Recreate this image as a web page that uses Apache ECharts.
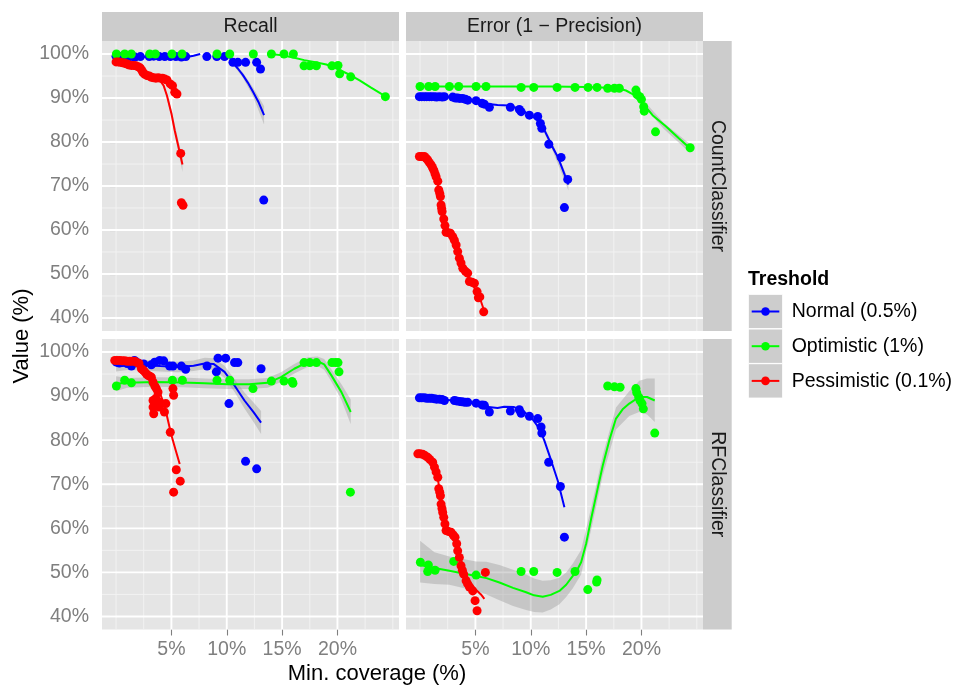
<!DOCTYPE html>
<html><head><meta charset="utf-8">
<script src="https://cdn.jsdelivr.net/npm/echarts@6/dist/echarts.min.js"></script>
<style>html,body{margin:0;padding:0;background:#fff}#c{width:956px;height:686px}</style>
</head><body><div id="c"></div><script>
// ---------- categories / ticks ----------
const groups = ['Normal (0.5%)', 'Optimistic (1%)', 'Pessimistic (0.1%)'];
const colTitles = ['Recall', 'Error (1 \u2212 Precision)'];
const rowTitles = ['CountClassifier', 'RFClassifier'];
const xTicks = [5, 10, 15, 20];
const xMinor = [0, 2.5, 7.5, 12.5, 17.5, 22.5, 25];
const yTicks = [40, 50, 60, 70, 80, 90, 100];
const yMinor = [45, 55, 65, 75, 85, 95];

// ---------- Recall / CountClassifier ----------
const rcNormalPts = [[0.0,99.5],[0.3,99.4],[0.6,99.5],[0.9,99.4],[1.3,99.4],[1.7,99.3],[2.2,99.4],[3.0,99.4],[3.4,99.5],[3.9,99.4],[4.4,99.4],[4.9,99.4],[5.4,99.4],[5.9,99.3],[6.3,99.4],[8.2,99.4],[9.1,99.4],[9.8,99.4],[10.56,98.1],[11.0,98.1],[11.7,98.1],[12.7,98.1],[13.05,96.6],[13.34,66.8]];
const rcNormalFitA = [[0,99.3],[2,99.3],[4,99.4],[5.5,99.4],[6.4,99.3],[7.0,99.6],[7.6,100.0]];
const rcNormalFitB = [[10.1,100.0],[10.56,98.0],[11.0,96.7],[11.46,95.2],[11.9,93.5],[12.37,91.4],[12.9,88.9],[13.37,86.1]];
const rcNormalBand = [[10.56,97.6,98.4],[11.46,94.6,95.8],[12.37,90.4,92.4],[13.37,84.0,88.2]];
const rcOptPts = [[0.03,100],[0.78,100],[1.38,100],[3.04,100],[3.55,100],[5.05,100],[5.96,100],[9.12,100],[10.27,100],[12.4,100],[14.03,100],[15.17,100],[16.02,100],[16.98,97.3],[17.5,97.3],[18.1,97.3],[19.5,97.3],[20.05,97.4],[20.2,95.5],[21.2,94.8],[24.33,90.3]];
const rcOptFit = [[14.0,100.0],[15,99.7],[16,99.2],[17,98.6],[18,98.1],[19,97.6],[20,96.6],[21,95.4],[22,94.0],[23,92.4],[24.3,90.4]];
const rcPessPts = [[0.0,98.2],[0.2,98.2],[0.4,98.1],[0.6,98.0],[0.8,97.9],[1.0,97.7],[1.2,97.5],[1.4,97.4],[1.6,97.4],[1.8,97.3],[2.0,97.1],[2.2,96.8],[2.35,96.2],[2.45,95.7],[2.6,95.4],[2.8,95.1],[3.0,95.0],[3.2,94.7],[3.4,94.6],[3.6,94.5],[3.8,94.6],[4.0,94.5],[4.2,94.5],[4.4,94.3],[4.6,94.1],[4.9,93.2],[5.1,92.8],[5.3,91.3],[5.5,90.9],[5.84,77.4],[5.9,66.2],[6.05,65.6]];
const rcPessFit = [[0,98.3],[0.5,98.0],[1,97.7],[1.5,97.3],[2,96.8],[2.5,96.1],[3,95.4],[3.5,94.8],[4,93.9],[4.3,92.8],[4.6,90.5],[5.0,86.5],[5.3,82.6],[5.6,79.3],[6.0,74.9]];
const rcPessBand = [[4.6,89.8,91.2],[5.0,85.6,87.4],[5.6,78.0,80.6],[6.0,73.2,76.6]];

// ---------- Error / CountClassifier ----------
const ecNormalPts = [[-0.06,90.3],[0.15,90.3],[0.39,90.3],[0.6,90.3],[0.84,90.3],[1.05,90.3],[1.3,90.3],[1.5,90.2],[1.75,90.3],[2.0,90.2],[2.2,90.3],[2.95,90.2],[3.2,90.0],[3.4,90.0],[3.6,89.9],[3.85,89.9],[4.1,89.7],[4.31,89.5],[5.06,89.4],[5.6,88.8],[5.81,88.6],[6.26,87.9],[8.16,87.9],[8.97,87.4],[9.13,86.9],[9.88,86.1],[10.63,85.8],[10.87,84.2],[11.0,83.1],[11.63,79.5],[12.74,76.5],[13.04,65.1],[13.34,71.5]];
const ecNormalFit = [[0,90.4],[2,90.3],[3,90.1],[4,89.8],[5,89.3],[6,88.7],[7,88.4],[8,88.3],[9,87.5],[9.5,86.8],[10,85.9],[10.5,85.3],[11,83.9],[11.5,81.3],[12,78.7],[12.5,76.3],[13,73.0],[13.4,70.3]];
const ecNormalBand = [[11,83.3,84.5],[12,77.9,79.5],[13.4,69.0,71.6]];
const ecOptPts = [[0.0,92.6],[0.78,92.6],[1.36,92.6],[2.65,92.6],[3.49,92.6],[5.06,92.6],[5.96,92.6],[9.13,92.4],[10.27,92.4],[12.38,92.4],[14.0,92.4],[15.18,92.4],[15.99,92.4],[16.95,92.2],[17.56,92.2],[18.0,92.2],[19.5,91.8],[19.6,90.8],[19.85,90.3],[20.0,89.7],[20.2,88.0],[20.25,87.0],[21.27,82.3],[24.4,78.7]];
const ecOptFit = [[0,92.6],[4,92.6],[8,92.6],[12,92.6],[15,92.5],[17,92.3],[18,92.1],[18.6,91.7],[19.2,90.9],[19.8,89.5],[20.4,87.9],[21.0,86.1],[22.2,83.6],[23.4,80.8],[24.4,78.5]];
const ecOptBand = [[20,88.7,90.0],[22,83.0,84.4],[24.4,77.5,79.5]];
const ecPessPts = [[-0.06,76.7],[0.15,76.7],[0.39,76.7],[0.55,76.3],[0.69,75.9],[0.85,75.3],[1.0,74.8],[1.12,74.2],[1.24,73.6],[1.35,72.8],[1.45,72.1],[1.6,71.1],[1.69,69.1],[1.78,68.3],[1.84,67.6],[1.9,65.7],[1.95,64.9],[1.99,64.2],[2.14,62.5],[2.25,61.0],[2.35,59.5],[2.55,59.4],[2.74,59.25],[2.95,58.5],[3.1,57.7],[3.26,56.6],[3.4,55.1],[3.55,53.6],[3.7,52.5],[3.86,51.3],[4.1,50.6],[4.3,50.2],[4.46,48.3],[4.7,48.1],[4.91,47.9],[5.15,46.0],[5.27,44.6],[5.4,44.8],[5.75,41.4]];
const ecPessFit = [[0,77.0],[0.5,76.4],[1,74.9],[1.5,71.8],[2,65.5],[2.5,60.3],[3,58.0],[3.5,54.3],[4,51.0],[4.5,48.6],[5,46.5],[5.5,43.8],[5.8,41.6]];

// ---------- Recall / RFClassifier ----------
const rrNormalPts = [[0.03,97.7],[0.3,97.5],[0.6,97.6],[1.0,97.4],[1.39,96.8],[1.66,98.1],[2.0,97.5],[2.5,97.3],[3.19,97.1],[3.49,97.7],[3.94,98.1],[4.30,98.0],[4.84,96.8],[5.14,96.8],[5.9,96.8],[6.29,96.1],[8.22,96.8],[9.06,95.5],[9.21,98.6],[9.9,98.6],[10.2,88.3],[10.7,97.6],[11.0,97.6],[11.7,75.2],[12.7,73.5],[13.1,96.2]];
const rrNormalFit = [[0,97.4],[1,97.2],[2.6,97.0],[4,96.8],[5.6,96.6],[7,96.9],[8,97.4],[8.8,97.3],[9.8,95.5],[10.7,92.4],[11.6,89.0],[12.4,86.4],[13.1,84.0]];
const rrNormalBand = [[0,95.6,99.2],[1,95.9,98.5],[2.6,95.8,98.2],[4,95.6,98.0],[5.6,95.4,97.8],[7,95.7,98.1],[8,96.1,98.7],[8.8,96.0,98.6],[9.8,94.1,96.9],[10.7,90.9,93.9],[11.6,87.2,90.8],[12.4,84.2,88.6],[13.1,81.4,86.6]];
const rrOptPts = [[0.03,92.3],[0.78,93.6],[1.39,93.0],[3.34,93.0],[5.09,93.6],[5.99,93.6],[9.12,93.6],[10.27,93.6],[12.37,91.7],[14.03,93.4],[15.17,93.4],[15.9,93.3],[15.98,92.9],[16.98,97.6],[17.5,97.6],[18.1,97.6],[19.5,97.6],[19.8,97.6],[20.05,97.6],[20.14,95.5],[21.17,68.2]];
const rrOptFit = [[0,92.8],[1,93.0],[3.5,93.2],[6,93.1],[8,92.9],[10.1,92.7],[12,92.7],[13.7,93.0],[14.9,94.3],[16.1,96.2],[17.3,97.7],[18.2,97.9],[18.8,97.2],[19.45,94.7],[20.36,90.9],[21.2,86.4]];
const rrOptBand = [[0,91.1,94.5],[1,91.9,94.1],[3.5,92.1,94.3],[6,92.0,94.2],[8,91.8,94.0],[10.1,91.6,93.8],[12,91.6,93.8],[13.7,91.9,94.1],[14.9,93.2,95.4],[16.1,95.1,97.3],[17.3,96.6,98.8],[18.2,96.8,99.0],[18.8,96.0,98.4],[19.45,93.3,96.1],[20.36,89.1,92.7],[21.2,83.6,89.2]];
const rrPessPts = [[-0.12,98.1],[0.1,98.1],[0.33,98.1],[0.55,98.0],[0.78,98.0],[1.0,97.9],[1.23,97.9],[1.45,97.9],[1.69,97.9],[1.9,97.6],[2.07,97.4],[2.29,96.2],[2.45,95.9],[2.59,95.5],[2.75,95.0],[2.89,94.7],[3.05,94.5],[3.19,94.3],[3.34,93.2],[3.5,92.3],[3.64,91.7],[3.79,90.9],[3.34,89.0],[3.34,87.5],[3.4,86.0],[3.6,89.5],[3.9,88.6],[3.9,87.5],[4.1,88.3],[4.37,86.4],[4.5,88.3],[5.14,91.7],[5.2,90.2],[4.9,81.8],[5.44,73.3],[5.8,70.7],[5.2,68.2]];
const rrPessFit = [[0,98.2],[1,98.0],[2,97.5],[2.5,96.2],[3,94.4],[3.5,92.5],[3.94,90.9],[4.3,88.3],[4.55,86.0],[5.0,81.1],[5.4,77.6],[5.75,74.6]];

// ---------- Error / RFClassifier ----------
const erNormalPts = [[-0.06,89.6],[0.15,89.6],[0.39,89.6],[0.6,89.5],[0.84,89.5],[1.05,89.5],[1.3,89.4],[1.5,89.3],[1.75,89.3],[2.0,89.2],[2.2,89.0],[3.1,89.0],[3.3,88.9],[3.55,88.8],[3.8,88.7],[4.05,88.6],[4.3,88.6],[5.06,88.4],[5.6,88.0],[5.81,87.9],[6.26,86.4],[8.16,86.6],[8.97,86.9],[9.13,86.1],[9.88,85.4],[10.63,84.9],[10.93,83.0],[11.0,81.6],[11.62,75.0],[12.68,69.5],[13.04,58.0]];
const erNormalFit = [[0,89.6],[1,89.4],[2,89.2],[3,89.0],[4,88.7],[5,88.3],[6,87.6],[7,87.3],[7.6,87.6],[8.5,87.5],[9.3,86.6],[10.03,85.2],[10.78,82.6],[11.23,79.9],[11.84,75.4],[12.44,70.8],[13.04,64.8]];
const erOptPts = [[0.03,52.3],[0.75,51.7],[0.69,50.2],[1.36,50.5],[3.04,52.5],[5.06,49.4],[9.13,50.2],[10.27,50.2],[12.38,50.0],[14.0,50.2],[15.15,46.1],[15.99,48.3],[15.95,47.8],[16.95,92.3],[17.56,92.1],[18.07,92.0],[19.5,91.7],[19.57,90.8],[19.75,89.8],[19.87,89.0],[20.05,88.3],[20.17,87.1],[21.2,81.6]];
const erOptFit = [[0,51.7],[1.3,51.0],[2.65,50.4],[4,49.7],[5.06,49.2],[6,48.7],[7.17,47.7],[8.4,46.5],[9.58,45.5],[10.3,44.8],[11.08,44.5],[11.8,44.9],[12.59,45.8],[13.2,47.2],[13.8,49.2],[14.2,50.6],[14.55,52.3],[15.0,56.5],[15.45,62.1],[16.0,68.5],[16.5,74.2],[17.1,80.0],[17.7,84.9],[18.3,87.0],[18.9,88.3],[19.8,89.8],[20.5,89.8],[21.2,89.0]];
const erOptBand = [[0,47.7,57.2],[1.3,47.4,54.6],[2.65,47.2,53.6],[4,46.4,53.0],[5.06,45.9,52.5],[6,45.0,52.4],[7.17,43.7,51.7],[8.4,42.4,50.6],[9.58,41.5,49.5],[10.3,41.0,48.6],[11.08,40.9,48.1],[11.8,41.6,48.2],[12.59,42.8,48.8],[13.2,44.4,50.0],[13.8,46.4,52.0],[14.55,49.5,55.1],[15.45,59.6,64.6],[16.5,71.9,76.5],[17.7,82.4,87.4],[18.9,85.5,91.1],[19.8,86.4,93.5],[20.5,85.8,94.0],[21.2,84.1,94.0]];
const erPessPts = [[-0.2,76.9],[0.0,76.9],[0.24,76.8],[0.45,76.5],[0.69,76.1],[0.9,75.6],[1.14,75.0],[1.3,73.9],[1.45,72.8],[1.6,71.6],[1.69,69.0],[1.78,68.2],[1.84,67.4],[1.9,65.5],[1.98,64.5],[2.05,63.6],[2.14,62.5],[2.25,61.0],[2.35,59.5],[2.55,59.3],[2.8,59.1],[3.0,58.5],[3.16,58.0],[3.31,56.5],[3.4,54.9],[3.55,53.4],[3.7,51.5],[3.82,50.5],[3.94,49.6],[4.16,48.1],[4.3,47.4],[4.46,46.7],[4.76,45.8],[4.97,43.6],[5.15,41.3],[5.9,50.0]];
const erPessFit = [[0,77.0],[0.5,76.5],[1,75.3],[1.5,72.6],[2,65.5],[2.5,60.3],[3,58.2],[3.5,54.5],[4,50.4],[4.5,47.8],[5,46.2],[5.5,45.0],[5.81,44.0]];

// ---------- chart ----------
const FONT = 'Liberation Sans, Arial, Helvetica, sans-serif';
const COLORS = ['#0000FF', '#00FF00', '#FF0000'];
const XMIN = -1.27, XMAX = 25.56, YMIN = 37.05, YMAX = 102.95;
const COLS = [{left: 102, width: 297}, {left: 406, width: 297}];
const ROWS = [{top: 41, height: 290}, {top: 339, height: 290.5}];

// panel order: 0 = top-left, 1 = top-right, 2 = bottom-left, 3 = bottom-right
const panels = [
  {row: 0, col: 0, pts: [rcNormalPts, rcOptPts, rcPessPts], fits: [[rcNormalFitA, rcNormalFitB], [rcOptFit], [rcPessFit]], bands: [[rcNormalBand], [], [rcPessBand]]},
  {row: 0, col: 1, pts: [ecNormalPts, ecOptPts, ecPessPts], fits: [[ecNormalFit], [ecOptFit], [ecPessFit]], bands: [[ecNormalBand], [ecOptBand], []]},
  {row: 1, col: 0, pts: [rrNormalPts, rrOptPts, rrPessPts], fits: [[rrNormalFit], [rrOptFit], [rrPessFit]], bands: [[rrNormalBand], [rrOptBand], []]},
  {row: 1, col: 1, pts: [erNormalPts, erOptPts, erPessPts], fits: [[erNormalFit], [erOptFit], [erPessFit]], bands: [[], [erOptBand], []]}
];

const grid = [], xAxis = [], yAxis = [], series = [];
panels.forEach((p, gi) => {
  grid.push({left: COLS[p.col].left, width: COLS[p.col].width, top: ROWS[p.row].top, height: ROWS[p.row].height,
    show: true, backgroundColor: '#E5E5E5', borderWidth: 0});
  const bottom = p.row === 1, leftSide = p.col === 0;
  xAxis.push({type: 'value', gridIndex: gi, min: XMIN, max: XMAX,
    splitLine: {show: false}, axisLine: {show: false},
    axisTick: {show: bottom, customValues: xTicks, length: 6, lineStyle: {color: '#7F7F7F', width: 1.1}},
    axisLabel: {show: bottom, customValues: xTicks, formatter: '{value}%', color: '#7F7F7F', fontSize: 19.5, fontFamily: FONT, margin: 10}});
  yAxis.push({type: 'value', gridIndex: gi, min: YMIN, max: YMAX,
    splitLine: {show: false}, axisLine: {show: false},
    axisTick: {show: leftSide, customValues: yTicks, length: 6, lineStyle: {color: '#7F7F7F', width: 1.1}},
    axisLabel: {show: leftSide, customValues: yTicks, formatter: '{value}%', color: '#7F7F7F', fontSize: 19.5, fontFamily: FONT, margin: 13}});
  // grid lines
  series.push({type: 'custom', xAxisIndex: gi, yAxisIndex: gi, z: 1, silent: true, data: [[0, 50]],
    renderItem: (params, api) => {
      const cs = params.coordSys, ch = [];
      const hl = (v, c, w) => { const y = api.coord([0, v])[1]; ch.push({type: 'line', shape: {x1: cs.x, y1: y, x2: cs.x + cs.width, y2: y}, style: {stroke: c, lineWidth: w}}); };
      const vl = (v, c, w) => { const x = api.coord([v, 50])[0]; ch.push({type: 'line', shape: {x1: x, y1: cs.y, x2: x, y2: cs.y + cs.height}, style: {stroke: c, lineWidth: w}}); };
      xMinor.forEach(v => vl(v, '#F2F2F2', 1));
      yMinor.forEach(v => hl(v, '#F2F2F2', 1));
      xTicks.forEach(v => vl(v, '#FFFFFF', 1.9));
      yTicks.forEach(v => hl(v, '#FFFFFF', 1.9));
      return {type: 'group', children: ch};
    }});
  // confidence bands
  p.bands.forEach((bl, k) => bl.forEach(band => {
    series.push({type: 'custom', xAxisIndex: gi, yAxisIndex: gi, z: 2, silent: true, data: [[0, 50]],
      renderItem: (params, api) => {
        const up = band.map(d => api.coord([d[0], d[2]]));
        const lo = band.map(d => api.coord([d[0], d[1]])).reverse();
        return {type: 'polygon', shape: {points: up.concat(lo)}, style: {fill: 'rgba(153,153,153,0.4)'}};
      }});
  }));
  // smooth lines
  p.fits.forEach((fl, k) => fl.forEach(fit => {
    series.push({type: 'line', name: groups[k], xAxisIndex: gi, yAxisIndex: gi, z: 3, silent: true,
      data: fit, symbol: 'none', showSymbol: false, lineStyle: {color: COLORS[k], width: 2}});
  }));
  // points
  p.pts.forEach((pts, k) => {
    series.push({type: 'scatter', name: groups[k], xAxisIndex: gi, yAxisIndex: gi, z: 4, silent: true,
      data: pts, symbolSize: 9, itemStyle: {color: COLORS[k], opacity: 1}});
  });
});

const graphic = [];
// column strips
COLS.forEach((c, i) => {
  graphic.push({type: 'rect', shape: {x: c.left, y: 12, width: c.width, height: 29}, style: {fill: '#CCCCCC'}, silent: true});
  graphic.push({type: 'text', x: c.left + c.width / 2, y: 26.5, style: {text: colTitles[i], fill: '#1A1A1A', font: '19.5px ' + FONT, align: 'center', verticalAlign: 'middle'}, silent: true});
});
// row strips
ROWS.forEach((r, i) => {
  graphic.push({type: 'rect', shape: {x: 703, y: r.top, width: 28.7, height: r.height}, style: {fill: '#CCCCCC'}, silent: true});
  graphic.push({type: 'text', x: 717.3, y: r.top + r.height / 2, rotation: -Math.PI / 2, style: {text: rowTitles[i], fill: '#1A1A1A', font: '19.5px ' + FONT, align: 'center', verticalAlign: 'middle'}, silent: true});
});
// axis titles
graphic.push({type: 'text', x: 377, y: 674, style: {text: 'Min. coverage (%)', fill: '#000', font: '22px ' + FONT, align: 'center', verticalAlign: 'middle'}, silent: true});
graphic.push({type: 'text', x: 22, y: 336, rotation: Math.PI / 2, style: {text: 'Value (%)', fill: '#000', font: '22px ' + FONT, align: 'center', verticalAlign: 'middle'}, silent: true});
// legend
graphic.push({type: 'text', x: 748, y: 279.5, style: {text: 'Treshold', fill: '#000', font: 'bold 19.5px ' + FONT, align: 'left', verticalAlign: 'middle'}, silent: true});
groups.forEach((g, i) => {
  const y0 = 294.3 + i * 34.7;
  graphic.push({type: 'rect', shape: {x: 748.3, y: y0, width: 34.4, height: 34.4}, style: {fill: '#CDCDCD', stroke: '#FFFFFF', lineWidth: 1}, silent: true});
  graphic.push({type: 'line', shape: {x1: 751.7, y1: y0 + 17.2, x2: 779.3, y2: y0 + 17.2}, style: {stroke: COLORS[i], lineWidth: 2}, silent: true});
  graphic.push({type: 'circle', shape: {cx: 765.5, cy: y0 + 17.2, r: 4.3}, style: {fill: COLORS[i]}, silent: true});
  graphic.push({type: 'text', x: 791.7, y: y0 + 17.6, style: {text: g, fill: '#000', font: '19.5px ' + FONT, align: 'left', verticalAlign: 'middle'}, silent: true});
});

const chart = echarts.init(document.getElementById('c'), null, {renderer: 'canvas'});
chart.setOption({animation: false, backgroundColor: '#FFFFFF', grid, xAxis, yAxis, series, graphic});
</script></body></html>
